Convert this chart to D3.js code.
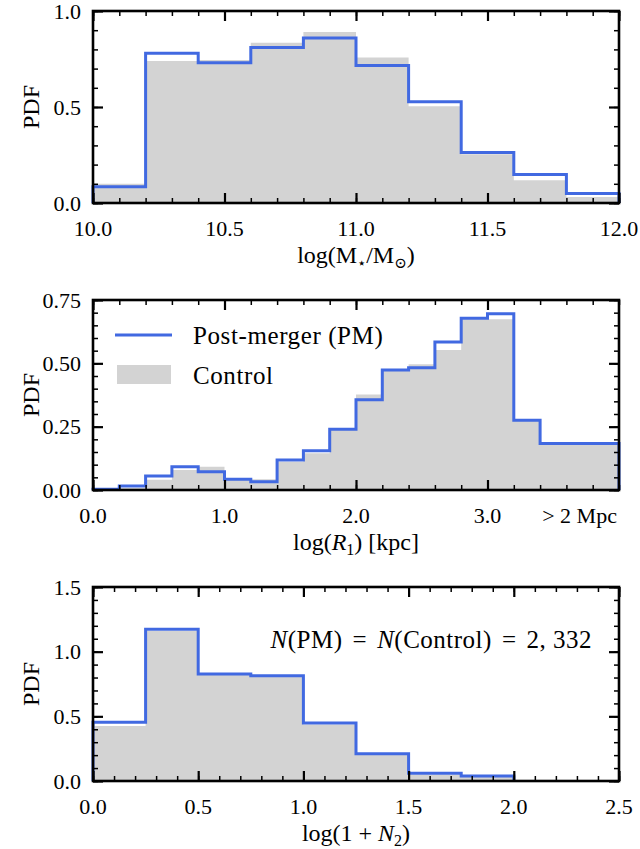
<!DOCTYPE html>
<html>
<head>
<meta charset="utf-8">
<script src="https://cdn.jsdelivr.net/npm/d3@7"></script>
<style>
  body { margin: 0; background: #fff; }
</style>
</head>
<body>
<svg id="chart" width="640" height="849"></svg>
<script>
// --- data ---
const massEdges = [10.0, 10.2, 10.4, 10.6, 10.8, 11.0, 11.2, 11.4, 11.6, 11.8, 12.0];
const massPM = [0.085, 0.78, 0.73, 0.81, 0.86, 0.716, 0.527, 0.263, 0.148, 0.05];
const massControl = [0.10, 0.74, 0.745, 0.835, 0.89, 0.758, 0.504, 0.254, 0.118, 0.031];

const sepEdges = [0.0, 0.2, 0.4, 0.6, 0.8, 1.0, 1.2, 1.4, 1.6, 1.8, 2.0, 2.2, 2.4, 2.6, 2.8, 3.0, 3.2, 3.4, 4.0];
const sepPM = [0.003, 0.016, 0.055, 0.092, 0.072, 0.042, 0.033, 0.118, 0.155, 0.24, 0.356, 0.474, 0.483, 0.584, 0.678, 0.696, 0.275, 0.184];
const sepControl = [0.002, 0.007, 0.04, 0.079, 0.092, 0.04, 0.042, 0.112, 0.145, 0.237, 0.377, 0.47, 0.496, 0.553, 0.674, 0.674, 0.272, 0.18];

const nEdges = [0.0, 0.25, 0.5, 0.75, 1.0, 1.25, 1.5, 1.75, 2.0];
const nPM = [0.454, 1.174, 0.828, 0.813, 0.449, 0.21, 0.059, 0.038];
const nControl = [0.425, 1.16, 0.82, 0.808, 0.436, 0.205, 0.05, 0.03];

const massTicks = [10.0, 10.5, 11.0, 11.5, 12.0];
const sepTicks = [0.0, 1.0, 2.0, 3.0];
const nTicks = [0.0, 0.5, 1.0, 1.5, 2.0, 2.5];

const PM_COLOR = "#4169e1";
const CONTROL_COLOR = "#d3d3d3";
const FONT = "'Liberation Serif', 'DejaVu Serif', serif";

const svg = d3.select("#chart");
const left = 93, right = 619;

// builds the step outline of a histogram, like matplotlib's step hist
function stepPoints(edges, vals) {
    let pts = [[edges[0], 0]];
    vals.forEach((v, i) => {
        pts.push([edges[i], v]);
        pts.push([edges[i + 1], v]);
    });
    pts.push([edges[edges.length - 1], 0]);
    return pts;
}

function range(a, b, step) {
    let out = [];
    for (let k = 0; a + k * step <= b + 1e-9; k++) out.push(+(a + k * step).toFixed(4));
    return out;
}

function txt(sel) {
    return sel.append("text").style("font-family", FONT).attr("fill", "#000");
}

function drawPanel(p) {
    const g = svg.append("g");
    const x = d3.scaleLinear().domain(p.xDomain).range([left, right]);
    const y = d3.scaleLinear().domain(p.yDomain).range([p.bottom, p.top]);

    const line = d3.line().x(d => x(d[0])).y(d => y(d[1]));

    g.append("path")
        .attr("d", line(stepPoints(p.edges, p.control)) + "Z")
        .attr("fill", CONTROL_COLOR)
        .attr("stroke", "none");

    g.append("path")
        .attr("d", line(stepPoints(p.edges, p.pm)))
        .attr("fill", "none")
        .attr("stroke", PM_COLOR)
        .attr("stroke-width", 3)
        .attr("stroke-linejoin", "miter");

    // ticks on all four sides, pointing in
    const minorX = range(p.xDomain[0], p.xDomain[1], p.xMinor);
    const minorY = range(p.yDomain[0], p.yDomain[1], p.yMinor);
    const mk = (axis, vals, size, w, tr) => {
        const a = g.append("g")
            .attr("transform", tr)
            .call(axis.tickValues(vals).tickSize(-size).tickFormat(""));
        a.select(".domain").remove();
        a.selectAll("line").attr("stroke-width", w);
    };
    mk(d3.axisBottom(x), minorX, 5, 1.5, `translate(0,${p.bottom})`);
    mk(d3.axisTop(x), minorX, 5, 1.5, `translate(0,${p.top})`);
    mk(d3.axisLeft(y), minorY, 5, 1.5, `translate(${left},0)`);
    mk(d3.axisRight(y), minorY, 5, 1.5, `translate(${right},0)`);
    mk(d3.axisBottom(x), p.xTicks, 10, 2.2, `translate(0,${p.bottom})`);
    mk(d3.axisTop(x), p.xTicks, 10, 2.2, `translate(0,${p.top})`);
    mk(d3.axisLeft(y), p.yTicks, 10, 2.2, `translate(${left},0)`);
    mk(d3.axisRight(y), p.yTicks, 10, 2.2, `translate(${right},0)`);

    // tick labels
    p.xTicks.forEach(d => {
        txt(g).attr("x", x(d)).attr("y", p.bottom + 33)
            .attr("text-anchor", "middle").attr("font-size", 22)
            .text(d3.format(".1f")(d));
    });
    p.yTicks.forEach(d => {
        txt(g).attr("x", left - 12).attr("y", y(d) + 7.5)
            .attr("text-anchor", "end").attr("font-size", 22)
            .text(d3.format(p.yFormat)(d));
    });

    // frame
    g.append("rect")
        .attr("x", left).attr("y", p.top)
        .attr("width", right - left).attr("height", p.bottom - p.top)
        .attr("fill", "none").attr("stroke", "#000").attr("stroke-width", 2.6);

    // y label
    txt(g).attr("transform", `translate(39,${(p.top + p.bottom) / 2}) rotate(-90)`)
        .attr("text-anchor", "middle").attr("font-size", 24)
        .text("PDF");

    const xl = txt(g)
        .attr("x", (left + right) / 2).attr("y", p.bottom + 60)
        .attr("text-anchor", "middle").attr("font-size", 24);
    p.xLabel(xl);

    return {x, y, g};
}

// panel 1: stellar mass
drawPanel({
    edges: massEdges, pm: massPM, control: massControl,
    xDomain: [10.0, 12.0], yDomain: [0, 1.0], top: 11, bottom: 203,
    xTicks: massTicks, yTicks: [0, 0.5, 1.0], xMinor: 0.1, yMinor: 0.1, yFormat: ".1f",
    xLabel: t => {
        t.append("tspan").text("log(M");
        t.append("tspan").attr("font-size", 15).attr("dy", 5).text("\u22C6");
        t.append("tspan").attr("dy", -5).text("/M");
        t.append("tspan").attr("font-size", 15).attr("dy", 5).text("\u2299");
        t.append("tspan").attr("dy", -5).text(")");
    }
});

// panel 2: separation to nearest neighbour
const p2 = drawPanel({
    edges: sepEdges, pm: sepPM, control: sepControl,
    xDomain: [0, 4.0], yDomain: [0, 0.75], top: 300, bottom: 490,
    xTicks: sepTicks, yTicks: [0, 0.25, 0.5, 0.75], xMinor: 0.2, yMinor: 0.05, yFormat: ".2f",
    xLabel: t => {
        t.append("tspan").text("log(");
        t.append("tspan").attr("font-style", "italic").text("R");
        t.append("tspan").attr("font-size", 16).attr("dy", 5).text("1");
        t.append("tspan").attr("dy", -5).text(") [kpc]");
    }
});
txt(p2.g)
    .attr("x", p2.x(3.7)).attr("y", 490 + 33)
    .attr("text-anchor", "middle").attr("font-size", 22)
    .text("> 2 Mpc");

// legend
const lg = p2.g.append("g");
lg.append("line").attr("x1", 115).attr("x2", 172).attr("y1", 335).attr("y2", 335)
    .attr("stroke", PM_COLOR).attr("stroke-width", 3);
lg.append("rect").attr("x", 117).attr("y", 365).attr("width", 54).attr("height", 19)
    .attr("fill", CONTROL_COLOR);
txt(lg).attr("x", 193).attr("y", 344).attr("font-size", 25)
    .attr("letter-spacing", 0.6).text("Post-merger (PM)");
txt(lg).attr("x", 193).attr("y", 384).attr("font-size", 25)
    .attr("letter-spacing", 0.6).text("Control");

// panel 3: number of neighbours
const p3 = drawPanel({
    edges: nEdges, pm: nPM, control: nControl,
    xDomain: [0, 2.5], yDomain: [0, 1.5], top: 587, bottom: 781,
    xTicks: nTicks, yTicks: [0, 0.5, 1.0, 1.5], xMinor: 0.1, yMinor: 0.1, yFormat: ".1f",
    xLabel: t => {
        t.append("tspan").text("log(1 + ");
        t.append("tspan").attr("font-style", "italic").text("N");
        t.append("tspan").attr("font-size", 16).attr("dy", 5).text("2");
        t.append("tspan").attr("dy", -5).text(")");
    }
});
const ann = txt(p3.g)
    .attr("x", 592).attr("y", 648).attr("font-size", 25)
    .attr("text-anchor", "end").attr("letter-spacing", 0.5);
ann.append("tspan").attr("font-style", "italic").text("N");
ann.append("tspan").text("(PM)");
ann.append("tspan").attr("dx", 10).text("=");
ann.append("tspan").attr("dx", 10).attr("font-style", "italic").text("N");
ann.append("tspan").text("(Control)");
ann.append("tspan").attr("dx", 10).text("=");
ann.append("tspan").attr("dx", 10).text("2, 332");
</script>
</body>
</html>
